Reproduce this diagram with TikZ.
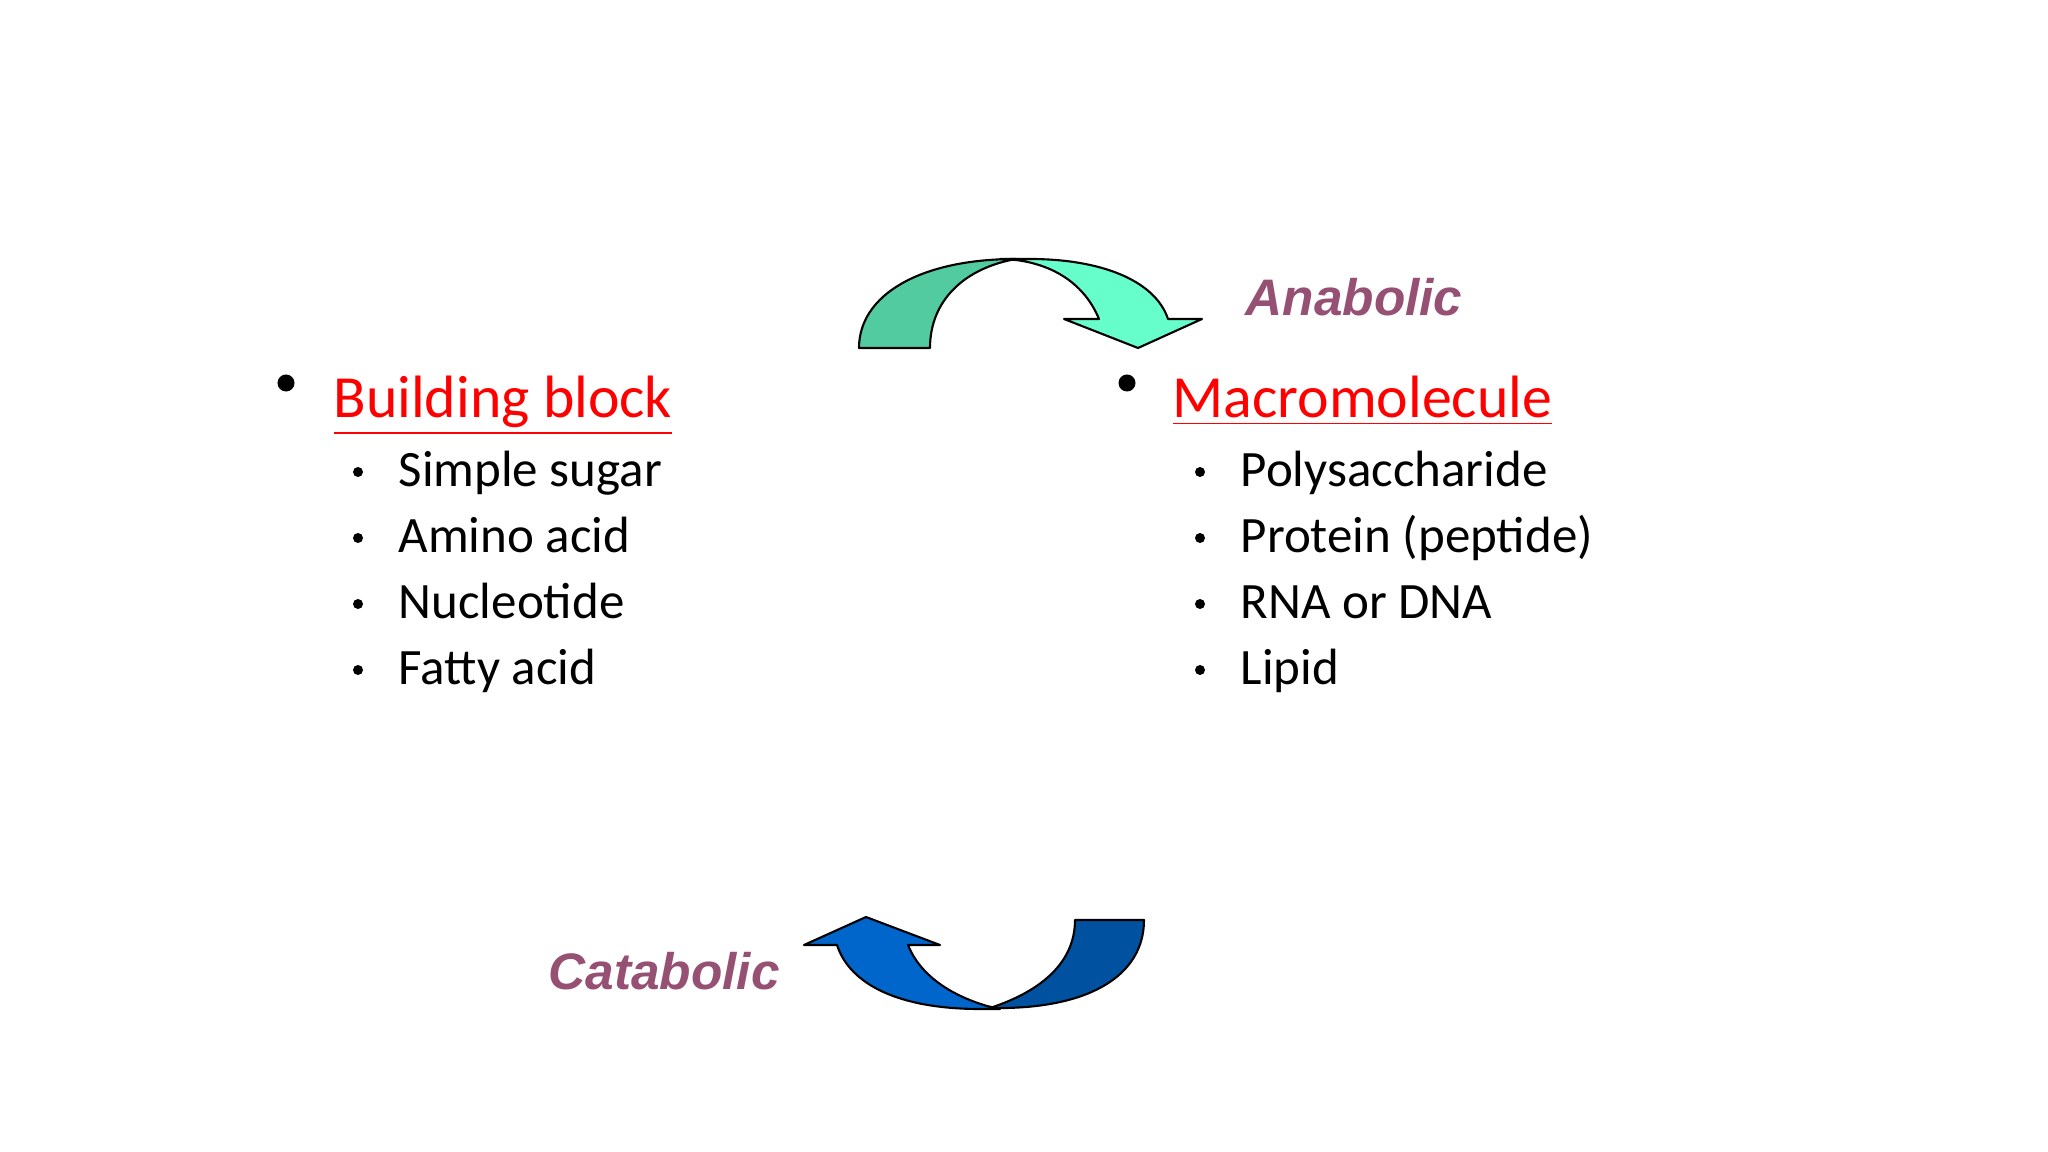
\documentclass[tikz,border=0pt]{standalone}
\usepackage{fontspec}
\setmainfont{Carlito}
\newfontfamily\arialf{Liberation Sans}
\begin{document}
\begin{tikzpicture}[x=0.01cm,y=-0.01cm,
  head/.style={anchor=base west,text=red,font=\fontsize{17}{20}\selectfont,inner sep=0},
  item/.style={anchor=base west,font=\fontsize{14.5}{17}\selectfont,inner sep=0},
  bigdot/.style={circle,fill=black,inner sep=0,minimum size=0.17cm},
  smalldot/.style={circle,fill=black,inner sep=0,minimum size=0.1cm},
  lbl/.style={anchor=base west,text=labc,font=\arialf\bfseries\itshape\fontsize{14.6}{17}\selectfont,inner sep=0},
  arr/.style={draw=black,line width=0.6pt,line join=round}]
\definecolor{labc}{RGB}{150,80,115}
\definecolor{gdark}{RGB}{82,203,160}
\definecolor{glight}{RGB}{102,255,204}
\definecolor{bdark}{RGB}{0,82,160}
\definecolor{blight}{RGB}{0,102,204}
\useasboundingbox (0,0) rectangle (2048,1152);
% left column
\node[bigdot] (d1) at (286,383) {};
\node[head] (h1) at (333,418) {\underline{Building block}};
\foreach \t [count=\i] in {Simple sugar,Amino acid,Nucleotide,Fatty acid}{
  \node[smalldot] (ld\i) at (358,{487+66*(\i-1)-15}) {};
  \node[item] (l\i) at (398,{487+66*(\i-1)}) {\t};
}
% right column
\node[bigdot] (d2) at (1127,383) {};
\node[head] (h2) at (1172,418) {\underline{Macromolecule}};
\foreach \t [count=\i] in {Polysaccharide,Protein (peptide),RNA or DNA,Lipid}{
  \node[smalldot] (rd\i) at (1200,{487+66*(\i-1)-15}) {};
  \node[item] (r\i) at (1240,{487+66*(\i-1)}) {\t};
}
% labels
\node[lbl] (ana) at (1245,316) {Anabolic};
\node[lbl] (cat) at (548,989) {Catabolic};
% anabolic arrow
\fill[glight,arr] (1000,259) -- (1030,259) .. controls (1100,259) and (1155,280) .. (1168,319)
  -- (1202,319) -- (1138,348) -- (1064,319) -- (1099,319)
  .. controls (1085,285) and (1055,265) .. (1016,260) -- cycle;
\fill[gdark,arr] (859,348) .. controls (859,295) and (920,259) .. (1016,259)
  .. controls (965,268) and (930,300) .. (930,348) -- cycle;
% catabolic arrow
\fill[blight,arr] (1000,1009) -- (980,1009) .. controls (900,1009) and (850,985) .. (837,945)
  -- (804,945) -- (866,917) -- (940,945) -- (908,945)
  .. controls (920,975) and (950,995) .. (987,1006) -- cycle;
\fill[bdark,arr] (1075,920) -- (1144,920) .. controls (1144,975) and (1090,1010) .. (990,1008)
  .. controls (1045,990) and (1075,960) .. (1075,920) -- cycle;
\end{tikzpicture}
\end{document}
